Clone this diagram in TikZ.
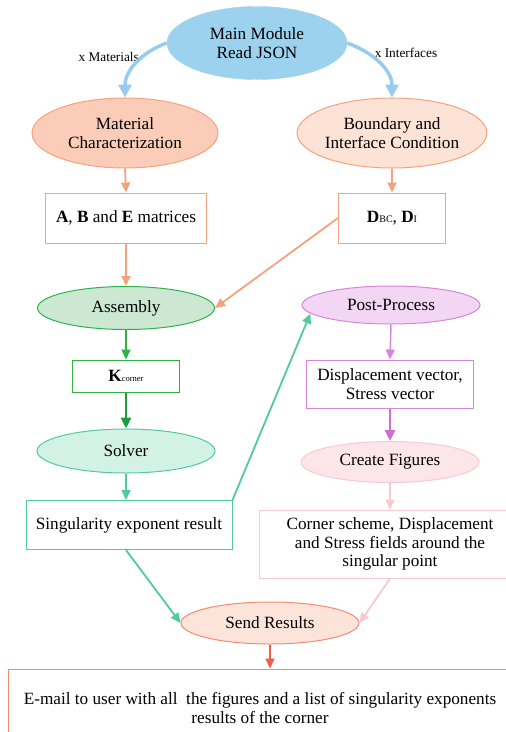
\documentclass[tikz,border=0pt]{standalone}
\usepackage{fontspec}
\setmainfont{Liberation Serif}
\usetikzlibrary{shapes.geometric,arrows.meta}
\definecolor{cblue}{HTML}{9DD2EE}
\definecolor{cblueA}{HTML}{98CCEE}
\definecolor{cmatF}{HTML}{FBCDB9}
\definecolor{cbndF}{HTML}{FDE3D6}
\definecolor{corg}{HTML}{F5A17D}
\definecolor{casmF}{HTML}{CDE8D2}
\definecolor{cgreen}{HTML}{2DB34A}
\definecolor{cgreenD}{HTML}{1E9E3C}
\definecolor{csolF}{HTML}{D3F2E6}
\definecolor{cteal}{HTML}{4FCB9C}
\definecolor{cpostF}{HTML}{F2D6F4}
\definecolor{cpurp}{HTML}{D885DC}
\definecolor{cpurpD}{HTML}{CC6FD0}
\definecolor{ccreF}{HTML}{FDE6EA}
\definecolor{cpink}{HTML}{F8C9D2}
\definecolor{csendF}{HTML}{FDE4DB}
\definecolor{csend}{HTML}{F28C6E}
\definecolor{cred}{HTML}{EE5F45}
\tikzset{
  ell/.style={ellipse, inner sep=0pt, align=center, font=\fontsize{17.2}{18.5}\selectfont},
  box/.style={rectangle, inner sep=0pt, align=center, font=\fontsize{17.2}{18.5}\selectfont, fill=white},
  lbl/.style={font=\fontsize{13.3}{14}\selectfont, inner sep=0pt},
  arr/.style={-{Triangle[length=10pt,width=9pt]}, line width=1.8pt},
  bigarr/.style={-{Triangle[length=13pt,width=13pt]}, line width=3.5pt, color=cblueA},
}
\begin{document}
\begin{tikzpicture}[x=1pt,y=-1pt]
\useasboundingbox (0,0) rectangle (506,732);
% nodes
\node[ell, fill=cblue, draw=cblue, minimum width=180pt, minimum height=73pt] (main) at (257,43) {Main Module\\Read JSON};
\node[ell, fill=cmatF, draw=corg, line width=1pt, minimum width=186pt, minimum height=70pt] (mat) at (125,133) {Material\\Characterization};
\node[ell, fill=cbndF, draw=corg, line width=1pt, minimum width=185pt, minimum height=70pt] (bnd) at (392,133) {Boundary and\\Interface Condition};
\node[box, draw=corg, line width=1pt, minimum width=161pt, minimum height=50pt] (abe) at (126,218) {\textbf{A}, \textbf{B} and \textbf{E} matrices};
\node[box, draw=corg, line width=1pt, minimum width=107pt, minimum height=50pt] (dbc) at (392,218) {\textbf{D}{\fontsize{10}{10}\selectfont BC}, \textbf{D}{\fontsize{10}{10}\selectfont I}};
\node[ell, fill=casmF, draw=cgreen, line width=1pt, minimum width=177pt, minimum height=43pt] (asm) at (126,308) {Assembly};
\node[ell, fill=cpostF, draw=cpurp, line width=1pt, minimum width=178pt, minimum height=38pt] (post) at (391,305) {Post-Process};
\node[box, draw=cgreen, line width=1pt, minimum width=107pt, minimum height=32pt] (kc) at (126,376) {\textbf{K}{\fontsize{8.5}{9}\selectfont corner}};
\node[box, draw=cpurp, line width=1pt, minimum width=167pt, minimum height=48pt] (disp) at (390,384) {Displacement vector,\\Stress vector};
\node[ell, fill=csolF, draw=cteal, line width=1pt, minimum width=178pt, minimum height=44pt] (sol) at (126,451) {Solver};
\node[ell, fill=ccreF, draw=cpink, line width=1pt, minimum width=178pt, minimum height=41pt] (cre) at (390,462) {Create Figures};
\node[box, draw=cteal, line width=1pt, minimum width=206pt, minimum height=49pt] (sing) at (129,525) {Singularity exponent result};
\node[box, draw=cpink, line width=1pt, minimum width=262pt, minimum height=68pt] (corner) at (390,544) {Corner scheme, Displacement\\and Stress fields around the\\singular point};
\node[ell, fill=csendF, draw=csend, line width=1pt, minimum width=178pt, minimum height=42pt] (send) at (270,623) {Send Results};
\node[box, draw=csend, line width=1pt, minimum width=504pt, minimum height=92pt] (emailbox) at (260,715) {};
\node[box, fill=none, draw=none] (email) at (260,708) {E-mail to user with all\ \ the figures and a list of singularity exponents\\results of the corner};
% labels
\node[lbl, anchor=east] (lmat) at (139,57) {x Materials};
\node[lbl] (lint) at (406,53) {x Interfaces};
% connectors
\draw[bigarr] (main.west) to[out=200,in=90] (mat.north);
\draw[bigarr] (main.east) to[out=-20,in=90] (bnd.north);
\draw[arr, corg] (mat.south) -- (abe.north);
\draw[arr, corg] (bnd.south) -- (dbc.north);
\draw[arr, corg] (abe.south) -- (asm.north);
\draw[arr, corg] (dbc.west) -- (asm.east);
\draw[arr, cgreen] (asm.south) -- (kc.north);
\draw[-{Triangle[length=11pt,width=10pt]}, line width=2.8pt, cgreenD] (kc.south) -- (sol.north);
\draw[arr, cteal, line width=1.5pt] (sol.south) -- (sol.south |- sing.north);
\draw[arr, cteal] (sing.north east) -- (post.186);
\draw[arr, cpurp, line width=1.5pt] (post.south) -- (disp.north);
\draw[-{Triangle[length=11pt,width=10pt]}, line width=2.8pt, cpurpD] (disp.south) -- (cre.north);
\draw[arr, cpink] (cre.south) -- (corner.north);
\draw[arr, cteal] ([xshift=-3pt]sing.south) -- (send.west);
\draw[arr, cpink] (corner.south) -- (send.east);
\draw[arr, cred] (send.south) -- (send.south |- emailbox.north);
\end{tikzpicture}
\end{document}
